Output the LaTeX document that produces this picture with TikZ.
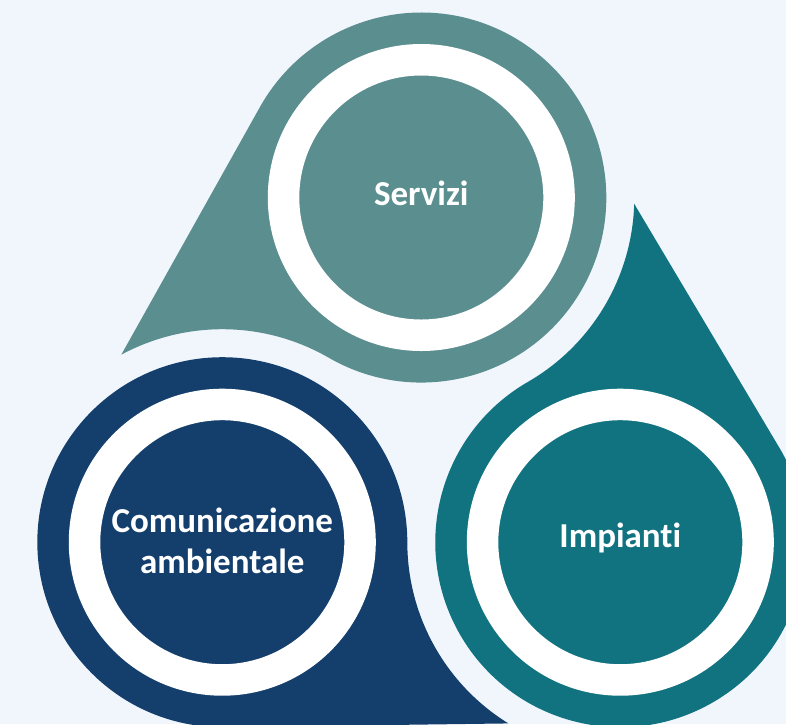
\documentclass[tikz,border=0pt]{standalone}
\usepackage{fontspec}
\setmainfont{Carlito}[Ligatures={NoCommon,NoRare}]
\usepackage{tikz}
\usetikzlibrary{calc}
\definecolor{bgblue}{HTML}{F1F6FD}
\definecolor{servcol}{HTML}{5B8E8F}
\definecolor{impcol}{HTML}{10737F}
\definecolor{comcol}{HTML}{143F6D}
\tikzset{
  drop text/.style={text=white,font=\fontsize{35}{41}\selectfont\bfseries,align=center},
}
\begin{document}
\begin{tikzpicture}[x=1pt,y=1pt]
  \clip (0,0) rectangle (786,-724);
  \fill[bgblue] (0,0) rectangle (786,-724);
  \coordinate (o) at (421.3,-427.3);
  % three drops, each tail hugging the next circle
  \foreach \ang/\nm/\col in {90/serv/servcol, 210/com/comcol, 330/imp/impcol}{
    \coordinate (\nm) at ($(o)+(\ang:229.8)$);
    \coordinate (\nm-next) at ($(o)+(\ang+120:229.8)$);
    \fill[\col] ($(\nm)+(\ang+60.7:185)$) -- ($(\nm-next)+(\ang+28.3:213)$)
      arc[start angle=\ang+28.3,end angle=\ang-30,radius=213]
      arc[start angle=\ang+150,end angle=\ang+420,radius=185] -- cycle;
    \draw[white,line width=31.5] (\nm) circle[radius=137.75];
  }
  \node[drop text] (servizi) at ($(serv)+(0,4)$) {Servizi};
  \node[drop text] (impianti) at ($(imp)+(0,4)$) {Impianti};
  \node[drop text] (comunicazione) at ($(com)+(0,1)$) {Comunicazione\\ambientale};
\end{tikzpicture}
\end{document}
